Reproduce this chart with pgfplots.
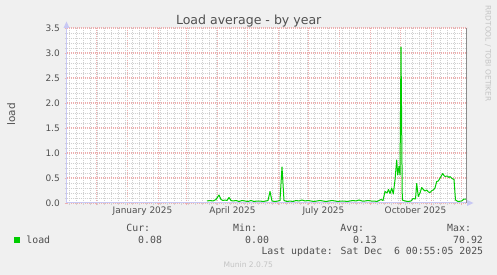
\documentclass[border=0pt]{standalone}
\usepackage{pgfplots}
\pgfplotsset{compat=1.18}
\usepackage{fontspec}
\setmainfont{DejaVu Sans}
\newfontfamily\monofont{DejaVu Sans Mono}
\definecolor{bgc}{HTML}{F0F0F0}
\definecolor{txt}{HTML}{505050}
\definecolor{faint}{HTML}{C4C4C4}
\definecolor{axisblue}{HTML}{C8C8F4}
\definecolor{mgrid}{HTML}{EDB0B0}
\definecolor{ngrid}{HTML}{D0D0D0}
\definecolor{loadgreen}{HTML}{00CC00}
\begin{document}
\begin{tikzpicture}
\useasboundingbox (0bp,0bp) rectangle (497bp,275bp);
\fill[bgc] (0bp,0bp) rectangle (497bp,275bp);
\begin{axis}[
  name=ax,
  at={(66.5bp,72bp)}, anchor=south west,
  scale only axis, width=400bp, height=175bp,
  xmin=-61, xmax=339, ymin=0, ymax=3.5,
  axis line style={draw=none},
  axis background/.style={fill=white},
  xtick={-31,0,31,59,90,120,151,181,212,243,273,304,334},
  xticklabels={},
  minor xtick={-58,-51,...,338},
  extra x ticks={15,105,196,288},
  extra x tick labels={January 2025,April 2025,July 2025,October 2025},
  extra x tick style={grid=none, major tick length=0pt},
  ytick={0,0.5,...,3.5},
  minor y tick num=4,
  grid=both,
  major grid style={mgrid, line width=1.1bp, dash pattern=on 1bp off 1bp},
  minor grid style={ngrid, line width=1bp, dash pattern=on 1bp off 1bp},
  tick pos=left, tick align=outside,
  major tick length=2bp, minor tick length=2bp,
  every major tick/.append style={mgrid, line width=1bp},
  every minor tick/.append style={ngrid, line width=1bp},
  yticklabel style={font=\fontsize{9}{10}\selectfont, text=txt, anchor=east, inner sep=0pt, xshift=-4.5bp},
  xticklabel style={font=\fontsize{9}{10}\selectfont, text=txt, anchor=base, inner sep=0pt, yshift=-10bp},
  yticklabel={\pgfmathprintnumber[fixed,fixed zerofill,precision=1,assume math mode=true]{\tick}},
]
\addplot[loadgreen, line width=1bp, line join=round] table {
x y
79.5 0.04
82.5 0.05
85.5 0.04
88.5 0.07
91.5 0.16
93.5 0.07
95.5 0.05
97.5 0.06
99.5 0.05
101.5 0.11
103.5 0.05
105.5 0.04
108.5 0.05
111.5 0.03
114.5 0.05
117.5 0.04
120.5 0.03
123.5 0.05
126.5 0.03
129.5 0.04
132.5 0.04
135.5 0.03
138.5 0.04
140.5 0.05
142.5 0.23
144.5 0.04
147.5 0.03
150.5 0.04
152.5 0.05
154.5 0.72
156.5 0.05
159.5 0.03
162.5 0.04
165.5 0.03
168.5 0.05
171.5 0.04
174.5 0.06
177.5 0.04
180.5 0.05
183.5 0.04
186.5 0.03
189.5 0.04
192.5 0.05
195.5 0.04
198.5 0.03
201.5 0.04
204.5 0.05
207.5 0.04
210.5 0.03
213.5 0.04
216.5 0.04
219.5 0.03
222.5 0.04
225.5 0.05
228.5 0.04
231.5 0.06
234.5 0.04
237.5 0.04
240.5 0.05
243.5 0.04
246.5 0.04
249.5 0.03
251.5 0.05
253.5 0.07
255.5 0.05
257.5 0.23
259.5 0.20
261 0.27
262.5 0.19
264.2 0.30
265.8 0.18
267.5 0.46
269.2 0.86
270.2 0.56
271.5 0.73
272.5 0.56
273.5 3.12
274.8 0.06
277.5 0.04
280.5 0.03
283.5 0.04
285.5 0.09
288 0.08
289.2 0.39
290.8 0.13
292.5 0.20
294.2 0.31
295.8 0.27
297.5 0.24
299.2 0.26
301 0.22
302.5 0.21
304.5 0.25
305.8 0.26
307.5 0.30
309.2 0.43
310.8 0.44
313.2 0.52
315.2 0.59
316.5 0.55
317.5 0.53
319.8 0.54
321.5 0.51
322.5 0.53
324.5 0.49
326.5 0.47
328 0.06
330.5 0.03
334.2 0.04
336.5 0.08
338.5 0.08
};
\end{axis}
\begin{scope}[x=1bp,y=1bp]
\draw[axisblue, line width=1bp] (66.5,72) -- (66.5,248);
\fill[axisblue] (63.5,247) -- (69.5,247) -- (66.5,253.5) -- cycle;
\draw[axisblue, line width=1bp] (66.5,72) -- (468,72);
\fill[axisblue] (467,69) -- (467,75) -- (473.5,72) -- cycle;
\draw[black!45, line width=1bp] (466.5,72) -- (466.5,247);
\node[anchor=base, inner sep=0pt, text=txt, font=\fontsize{12.6}{14}\selectfont] at (248.7,251) {Load average - by year};
\node[anchor=base, rotate=90, inner sep=0pt, text=txt, font=\fontsize{10.5}{12}\selectfont] at (15,160.5) {load};
\node[anchor=base, rotate=-90, inner sep=0pt, text=faint, font=\fontsize{7.5}{9}\selectfont] at (485.5,221.5) {RRDTOOL / TOBI OETIKER};
\begin{scope}[every node/.style={anchor=base west, inner sep=0pt, text=txt, font=\monofont\fontsize{9.9}{11}\selectfont}]
\node at (126.2,43.5) {Cur:};
\node at (233,43.5) {Min:};
\node at (340.2,43.5) {Avg:};
\node at (447,43.5) {Max:};
\node at (26.2,32) {load};
\node at (138,32) {0.08};
\node at (245,32) {0.00};
\node at (352.8,32) {0.13};
\node at (453,32) {70.92};
\node at (261.3,20.7) {Last update: Sat Dec~~6 00:55:05 2025};
\end{scope}
\fill[loadgreen] (14,32) rectangle (20,38);
\node[anchor=base, inner sep=0pt, text=faint, font=\fontsize{7.6}{9}\selectfont] at (248.3,8) {Munin 2.0.75};
\end{scope}
\end{tikzpicture}
\end{document}
